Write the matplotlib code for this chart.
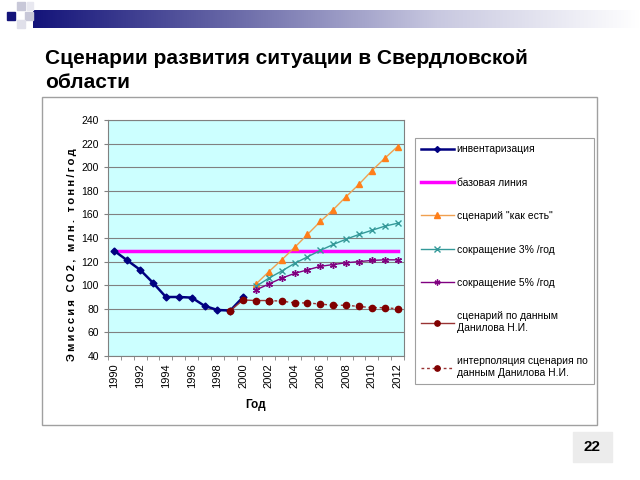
import matplotlib.pyplot as plt
import matplotlib.patches as mpatches
from matplotlib.colors import LinearSegmentedColormap
import numpy as np

plt.rcParams['font.family'] = ['Liberation Sans', 'DejaVu Sans']

years = list(range(1990, 2013))

inv_years = list(range(1990, 2001))
inventory = [129, 121, 113, 102, 90, 90, 89.5, 82.5, 79, 78.5, 90]

baseline = [129] * len(years)

scen_years = list(range(2001, 2013))
as_is = [101, 111.5, 121.5, 132, 143, 154, 164, 175, 185.5, 197, 207.5, 217.5]
cut3 = [99, 106, 112, 118.5, 124, 129.5, 134.5, 139, 143, 146.5, 150, 152.5]
cut5 = [96, 101, 106, 110, 113, 116, 117.5, 119, 120, 121, 121.5, 121.5]

dan_years = [1999, 2000, 2001, 2002]
danilov = [78.5, 87.5, 87, 87]
interp_years = list(range(2002, 2013))
interp = [87, 86.5, 85, 85, 84, 83, 83, 82, 81, 81, 80]

legend_labels = ['инвентаризация', 'базовая линия', 'сценарий "как есть"',
                 'сокращение 3% /год', 'сокращение 5% /год',
                 'сценарий по данным\nДанилова Н.И.',
                 'интерполяция сценария по\nданным Данилова Н.И.']

y_label = 'Эмиссия СО2, млн. тонн/год'

fig = plt.figure(figsize=(6.4, 4.8), dpi=100)
fig.patch.set_facecolor('white')

# header bar with gradient
bar = fig.add_axes([33 / 640, 1 - 28 / 480, 607 / 640, 18 / 480])
grad = np.linspace(0, 1, 256).reshape(1, -1)
cmap = LinearSegmentedColormap.from_list('hdr', ['#14147a', '#6a6aa8', '#c8c8e0', '#ffffff'])
bar.imshow(grad, aspect='auto', cmap=cmap)
bar.axis('off')

# little squares in the corner
for (x, y, w, h, c) in [(7, 12, 8, 8, '#14147a'), (17, 2, 8, 8, '#c8c8d8'),
                        (25, 12, 8, 8, '#c8c8d8'), (17, 20, 8, 8, '#e0e0ea'),
                        (27, 2, 6, 8, '#e8e8f0')]:
    fig.patches.append(mpatches.Rectangle((x / 640, 1 - (y + h) / 480), w / 640, h / 480,
                                          transform=fig.transFigure, color=c))

fig.text(45 / 640, 1 - 88 / 480, 'Сценарии развития ситуации в Свердловской\nобласти',
         fontsize=15, fontweight='bold', ha='left', va='baseline', linespacing=1.3)

# chart frame
fig.patches.append(mpatches.Rectangle((42 / 640, 1 - 425 / 480), 555 / 640, 328 / 480,
                                      transform=fig.transFigure, facecolor='white',
                                      edgecolor='#a0a0a0', lw=1, zorder=-5))

ax = fig.add_axes([108 / 640, 1 - 356 / 480, 296 / 640, 236 / 480])
ax.set_facecolor('#ccffff')
ax.set_xlim(1989.5, 2012.5)
ax.set_ylim(40, 240)
ax.set_yticks(range(40, 241, 20))
ax.yaxis.grid(True, color='#808080', lw=0.8)
ax.set_axisbelow(True)
for s in ax.spines.values():
    s.set_color('#808080')
ax.set_xticks(range(1990, 2013, 2))
ax.set_xticks(np.arange(1989.5, 2013, 1), minor=True)
ax.tick_params(axis='x', which='major', length=0, labelrotation=90, labelsize=8, pad=5)
ax.tick_params(axis='x', which='minor', length=3, color='#808080')
ax.tick_params(axis='y', labelsize=7.5, length=3, color='#808080')
ax.set_xlabel('Год', fontsize=8.5, fontweight='bold', labelpad=8)

# spaced-out axis title, as in the original
fig.text(72 / 640, 1 - 255 / 480, '\u2009'.join(y_label), rotation=90,
         fontsize=8, fontweight='bold', ha='center', va='center')

h_base, = ax.plot(years, baseline, color='#ff00ff', lw=2.5)
h_inv, = ax.plot(inv_years, inventory, color='#000080', lw=1.8, marker='D', ms=3.5)
h_as, = ax.plot(scen_years, as_is, color='#f0a050', lw=1, marker='^', ms=5,
                mfc='#ff7f1a', mec='#ff7f1a')
h_3, = ax.plot(scen_years, cut3, color='#339999', lw=1, marker='x', ms=5, mew=1)
h_5, = ax.plot(scen_years, cut5, color='#800080', lw=1, marker=(6, 2, 0), ms=5, mew=1)
h_dan, = ax.plot(dan_years, danilov, color='#993333', lw=1, marker='o', ms=4.5,
                 mfc='#800000', mec='#800000')
h_int, = ax.plot(interp_years, interp, color='#993333', lw=1, ls=(0, (2, 2)),
                 marker='o', ms=4.5, mfc='#800000', mec='#800000')

handles = [h_inv, h_base, h_as, h_3, h_5, h_dan, h_int]
leg = fig.legend(handles, legend_labels, loc='upper left',
                 bbox_to_anchor=(415 / 640, 1 - 138 / 480), fontsize=7.5,
                 handlelength=3.1, labelspacing=2.25, borderpad=0.6,
                 borderaxespad=0, handletextpad=0.3, fancybox=False, framealpha=1,
                 edgecolor='#a0a0a0', markerscale=0.85)
leg.get_frame().set_linewidth(0.8)

# page number
fig.patches.append(mpatches.Rectangle((573 / 640, 1 - 462 / 480), 39 / 640, 30 / 480,
                                      transform=fig.transFigure, color='#ececec'))
fig.text(592 / 640, 1 - 447 / 480, '22', fontsize=11, fontweight='bold',
         ha='center', va='center')

fig.savefig('out.png', dpi=100)
